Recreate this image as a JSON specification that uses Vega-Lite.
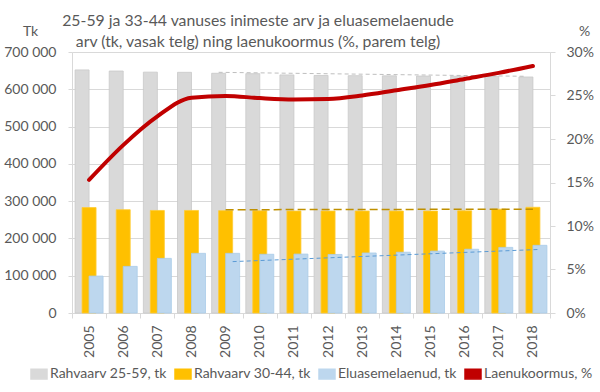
{
  "$schema": "https://vega.github.io/schema/vega-lite/v6.json",
  "width": 478,
  "height": 261,
  "autosize": "none",
  "padding": {"left": 72, "top": 52, "right": 50, "bottom": 79},
  "background": "white",
  "config": {
    "font": "Lato",
    "view": {"stroke": null},
    "axis": {"labelColor": "#595959", "labelFontSize": 14, "titleColor": "#595959", "titleFontSize": 14, "titleFontWeight": "normal", "domainColor": "#d9d9d9", "tickColor": "#d9d9d9", "gridColor": "#d9d9d9"}
  },
  "title": {
    "text": ["25-59 ja 33-44 vanuses inimeste arv ja eluasemelaenude", "arv (tk, vasak telg) ning laenukoormus (%, parem telg)"],
    "fontSize": 15.8,
    "fontWeight": "normal",
    "color": "#595959",
    "anchor": "middle",
    "frame": "group",
    "dx": -53,
    "dy": 33,
    "offset": 6,
    "lineHeight": 21
  },
  "datasets": {
    "main": [
      {"year": 2005, "series": "Rahvaarv 25-59, tk", "value": 652000},
      {"year": 2006, "series": "Rahvaarv 25-59, tk", "value": 649000},
      {"year": 2007, "series": "Rahvaarv 25-59, tk", "value": 646000},
      {"year": 2008, "series": "Rahvaarv 25-59, tk", "value": 645500},
      {"year": 2009, "series": "Rahvaarv 25-59, tk", "value": 643000},
      {"year": 2010, "series": "Rahvaarv 25-59, tk", "value": 642000},
      {"year": 2011, "series": "Rahvaarv 25-59, tk", "value": 638500},
      {"year": 2012, "series": "Rahvaarv 25-59, tk", "value": 637000},
      {"year": 2013, "series": "Rahvaarv 25-59, tk", "value": 636500},
      {"year": 2014, "series": "Rahvaarv 25-59, tk", "value": 636000},
      {"year": 2015, "series": "Rahvaarv 25-59, tk", "value": 635500},
      {"year": 2016, "series": "Rahvaarv 25-59, tk", "value": 635000},
      {"year": 2017, "series": "Rahvaarv 25-59, tk", "value": 634500},
      {"year": 2018, "series": "Rahvaarv 25-59, tk", "value": 633000},
      {"year": 2005, "series": "Rahvaarv 30-44, tk", "value": 282700},
      {"year": 2006, "series": "Rahvaarv 30-44, tk", "value": 277000},
      {"year": 2007, "series": "Rahvaarv 30-44, tk", "value": 275000},
      {"year": 2008, "series": "Rahvaarv 30-44, tk", "value": 275000},
      {"year": 2009, "series": "Rahvaarv 30-44, tk", "value": 274500},
      {"year": 2010, "series": "Rahvaarv 30-44, tk", "value": 274000},
      {"year": 2011, "series": "Rahvaarv 30-44, tk", "value": 273500},
      {"year": 2012, "series": "Rahvaarv 30-44, tk", "value": 273500},
      {"year": 2013, "series": "Rahvaarv 30-44, tk", "value": 273500},
      {"year": 2014, "series": "Rahvaarv 30-44, tk", "value": 273500},
      {"year": 2015, "series": "Rahvaarv 30-44, tk", "value": 273500},
      {"year": 2016, "series": "Rahvaarv 30-44, tk", "value": 274000},
      {"year": 2017, "series": "Rahvaarv 30-44, tk", "value": 278500},
      {"year": 2018, "series": "Rahvaarv 30-44, tk", "value": 283500},
      {"year": 2005, "series": "Eluasemelaenud, tk", "value": 99000},
      {"year": 2006, "series": "Eluasemelaenud, tk", "value": 125000},
      {"year": 2007, "series": "Eluasemelaenud, tk", "value": 146500},
      {"year": 2008, "series": "Eluasemelaenud, tk", "value": 160000},
      {"year": 2009, "series": "Eluasemelaenud, tk", "value": 160000},
      {"year": 2010, "series": "Eluasemelaenud, tk", "value": 157500},
      {"year": 2011, "series": "Eluasemelaenud, tk", "value": 158000},
      {"year": 2012, "series": "Eluasemelaenud, tk", "value": 157000},
      {"year": 2013, "series": "Eluasemelaenud, tk", "value": 161000},
      {"year": 2014, "series": "Eluasemelaenud, tk", "value": 163000},
      {"year": 2015, "series": "Eluasemelaenud, tk", "value": 166000},
      {"year": 2016, "series": "Eluasemelaenud, tk", "value": 171000},
      {"year": 2017, "series": "Eluasemelaenud, tk", "value": 176000},
      {"year": 2018, "series": "Eluasemelaenud, tk", "value": 181500},
      {"year": 2005, "series": "Laenukoormus, %", "value": 0.153},
      {"year": 2006, "series": "Laenukoormus, %", "value": 0.193},
      {"year": 2007, "series": "Laenukoormus, %", "value": 0.226},
      {"year": 2008, "series": "Laenukoormus, %", "value": 0.2475},
      {"year": 2009, "series": "Laenukoormus, %", "value": 0.2495},
      {"year": 2010, "series": "Laenukoormus, %", "value": 0.247},
      {"year": 2011, "series": "Laenukoormus, %", "value": 0.2455},
      {"year": 2012, "series": "Laenukoormus, %", "value": 0.246},
      {"year": 2013, "series": "Laenukoormus, %", "value": 0.25},
      {"year": 2014, "series": "Laenukoormus, %", "value": 0.256},
      {"year": 2015, "series": "Laenukoormus, %", "value": 0.262},
      {"year": 2016, "series": "Laenukoormus, %", "value": 0.269},
      {"year": 2017, "series": "Laenukoormus, %", "value": 0.276},
      {"year": 2018, "series": "Laenukoormus, %", "value": 0.284}
    ],
    "trend": [
      {"year": 2009, "trend": "gray", "value": 645500},
      {"year": 2018, "trend": "gray", "value": 634800},
      {"year": 2009, "trend": "orange", "value": 277000},
      {"year": 2018, "trend": "orange", "value": 278500},
      {"year": 2009, "trend": "blue", "value": 137800},
      {"year": 2018, "trend": "blue", "value": 170500}
    ]
  },
  "encoding": {
    "x": {
      "field": "year",
      "type": "ordinal",
      "scale": {"paddingInner": 0, "paddingOuter": 0},
      "axis": {"title": null, "labelAngle": -90, "tickBand": "extent", "tickSize": 5, "labelPadding": 7, "grid": false, "domainColor": "#d9d9d9"}
    }
  },
  "layer": [
    {
      "encoding": {
        "y": {
          "field": "value",
          "type": "quantitative",
          "scale": {"domain": [0, 700000], "nice": false},
          "axis": {
            "values": [0, 100000, 200000, 300000, 400000, 500000, 600000, 700000],
            "labelExpr": "replace(format(datum.value, ','), ',', ' ')",
            "grid": true,
            "domain": true,
            "tickSize": 4,
            "labelPadding": 12,
            "title": "Tk",
            "titleAngle": 0,
            "titleX": -42,
            "titleY": -17,
            "titleAlign": "center",
            "titleBaseline": "alphabetic"
          }
        }
      },
      "layer": [
        {
          "data": {"name": "main"},
          "transform": [{"filter": "datum.series === 'Rahvaarv 25-59, tk'"}],
          "mark": {"type": "bar", "width": 14, "xOffset": -7, "stroke": "#c9c9c9", "strokeWidth": 0.8},
          "encoding": {
            "color": {
              "field": "series",
              "type": "nominal",
              "scale": {
                "domain": ["Rahvaarv 25-59, tk", "Rahvaarv 30-44, tk", "Eluasemelaenud, tk", "Laenukoormus, %"],
                "range": ["#d9d9d9", "#ffc000", "#bdd7ee", "#c00000"]
              },
              "legend": {
                "title": null,
                "orient": "none",
                "direction": "horizontal",
                "legendX": -42,
                "legendY": 313,
                "symbolType": "M-1,-0.6H1V0.6H-1Z",
                "symbolSize": 256,
                "labelFontSize": 14,
                "labelColor": "#595959",
                "labelOffset": 2,
                "columnPadding": 5,
                "labelLimit": 200,
                "encode": {
                  "symbols": {
                    "update": {
                      "shape": {"signal": "datum.value === 'Laenukoormus, %' ? 'stroke' : 'M-1,-0.6H1V0.6H-1Z'"},
                      "fill": {"scale": "color", "field": "value"},
                      "stroke": {"scale": "color", "field": "value"},
                      "strokeWidth": {"signal": "datum.value === 'Laenukoormus, %' ? 3.5 : 0"},
                      "opacity": {"value": 1}
                    }
                  }
                }
              }
            }
          }
        },
        {
          "data": {"name": "main"},
          "transform": [{"filter": "datum.series === 'Rahvaarv 30-44, tk'"}],
          "mark": {"type": "bar", "width": 14, "xOffset": 0, "stroke": "#ffcc33", "strokeWidth": 0.8},
          "encoding": {"color": {"field": "series", "type": "nominal"}}
        },
        {
          "data": {"name": "main"},
          "transform": [{"filter": "datum.series === 'Eluasemelaenud, tk'"}],
          "mark": {"type": "bar", "width": 14, "xOffset": 7, "stroke": "#a9cbe8", "strokeWidth": 0.8},
          "encoding": {"color": {"field": "series", "type": "nominal"}}
        },
        {
          "data": {"name": "trend"},
          "transform": [{"filter": "datum.trend === 'gray'"}],
          "mark": {"type": "line", "xOffset": -7, "stroke": "#bfbfbf", "strokeWidth": 1, "strokeDash": [4, 3]},
          "encoding": {}
        },
        {
          "data": {"name": "trend"},
          "transform": [{"filter": "datum.trend === 'orange'"}],
          "mark": {"type": "line", "xOffset": 0, "stroke": "#bf9000", "strokeWidth": 1.5, "strokeDash": [8, 4]},
          "encoding": {}
        },
        {
          "data": {"name": "trend"},
          "transform": [{"filter": "datum.trend === 'blue'"}],
          "mark": {"type": "line", "xOffset": 7, "stroke": "#5b9bd5", "strokeWidth": 1, "strokeDash": [4, 3]},
          "encoding": {}
        }
      ]
    },
    {
      "data": {"name": "main"},
      "transform": [{"filter": "datum.series === 'Laenukoormus, %'"}],
      "mark": {"type": "line", "interpolate": "monotone", "strokeWidth": 4, "strokeCap": "round"},
      "encoding": {
        "y": {
          "field": "value",
          "type": "quantitative",
          "scale": {"domain": [0, 0.3], "nice": false},
          "axis": {
            "orient": "right",
            "values": [0, 0.05, 0.1, 0.15, 0.2, 0.25, 0.3],
            "format": ".0%",
            "grid": false,
            "domain": true,
            "tickSize": 5,
            "labelPadding": 11,
            "title": "%",
            "titleAngle": 0,
            "titleX": 34,
            "titleY": -17,
            "titleAlign": "center",
            "titleBaseline": "alphabetic"
          }
        },
        "color": {"field": "series", "type": "nominal"}
      }
    }
  ],
  "resolve": {"scale": {"y": "independent"}}
}
